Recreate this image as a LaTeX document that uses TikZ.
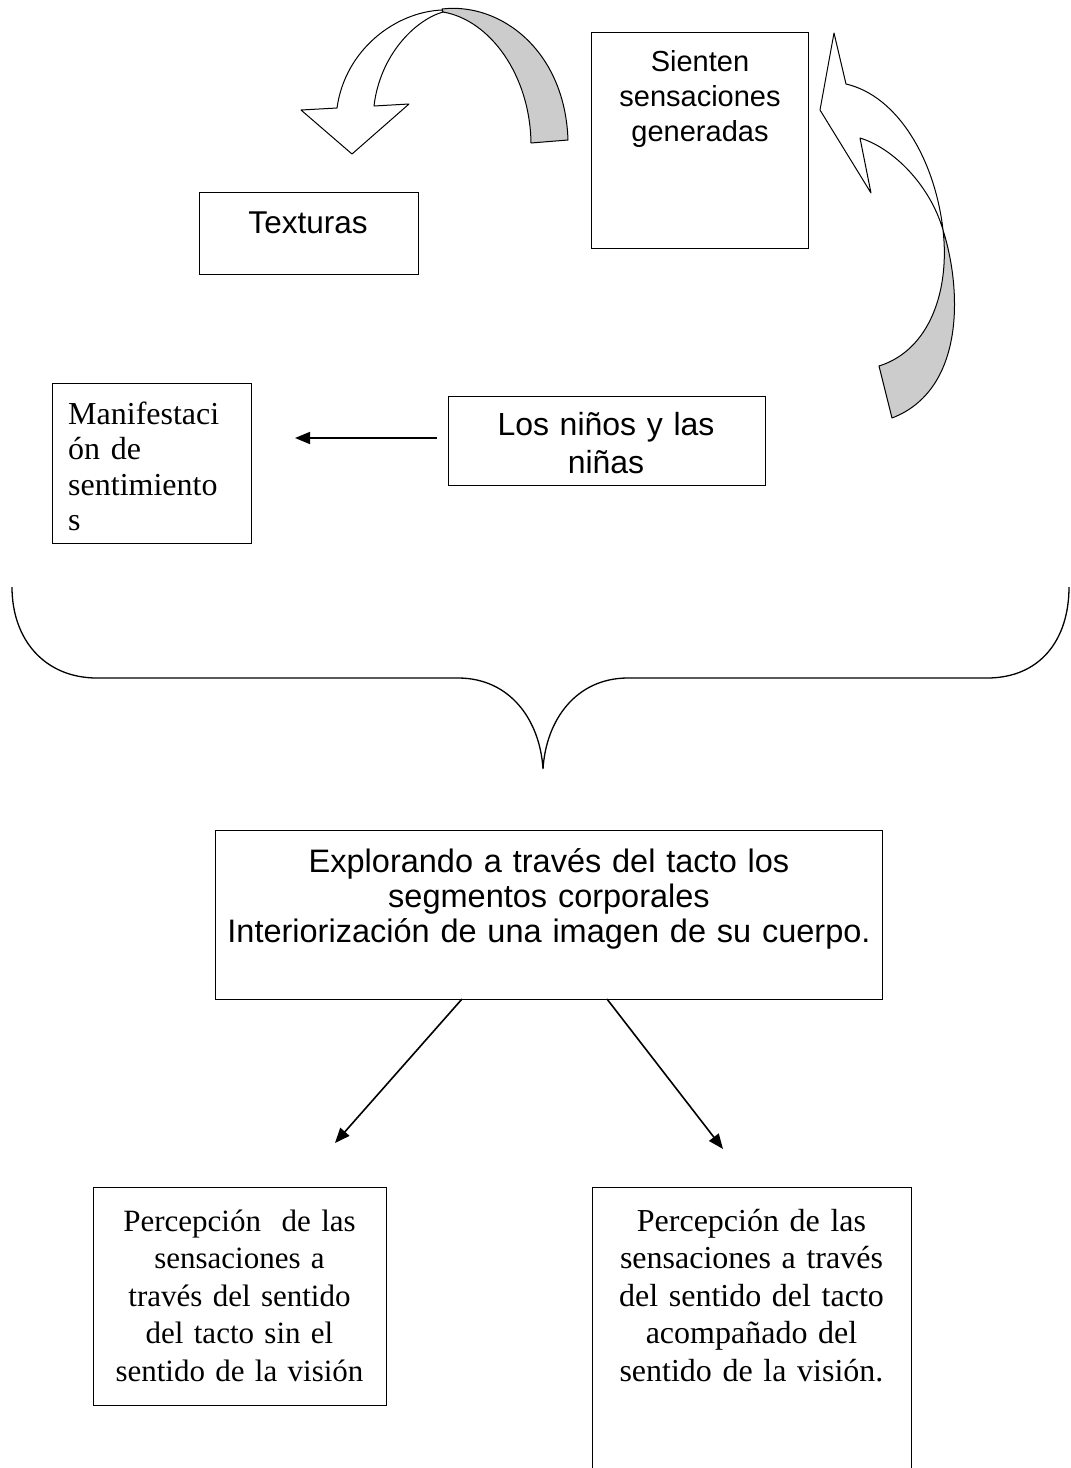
\documentclass[tikz,border=0pt]{standalone}
\usepackage{fontspec}
\setmainfont{Liberation Serif}
\newfontfamily\arialf{Liberation Sans}
\usetikzlibrary{arrows.meta}
\begin{document}
\begin{tikzpicture}[x=1pt,y=-1pt,
  boxs/.style={draw, line width=1.3pt, inner sep=0pt, anchor=north west},
  txt/.style={inner sep=0pt, anchor=base, align=center},
  conn/.style={line width=1.6pt, -{Triangle[length=15pt,width=12pt]}},
  ribbon/.style={draw, line width=1pt, line join=round},
  bracel/.style={line width=1.3pt}
]
\useasboundingbox (0,0) rectangle (1071,1468);
\clip (0,0) rectangle (1071,1468);

% ---- curved arrow at top (Texturas) ----
\path[ribbon, fill=black!20] (442,9) .. controls (500,2) and (565,50) .. (568,140)
  -- (531,143) .. controls (530,75) and (490,20) .. (443,12) -- cycle;
\path[ribbon, fill=white] (442,10) .. controls (395,12) and (345,50) .. (337,108)
  -- (301,110) -- (352,154) -- (409,104) -- (374,106)
  .. controls (380,55) and (415,20) .. (443,12) -- cycle;

% ---- curved arrow at right ----
\path[ribbon, fill=black!20] (943,230) .. controls (962,290) and (965,390) .. (892,418)
  -- (879,366) .. controls (930,350) and (950,290) .. (943,230) -- cycle;
\path[ribbon, fill=white] (846,84) -- (834,33) -- (820,110) -- (871,193) -- (860,138)
  .. controls (893,148) and (930,185) .. (943,230)
  .. controls (935,160) and (898,96) .. (846,84) -- cycle;

% ---- boxes ----
\node[boxs, minimum width=219, minimum height=82] (texb) at (199,192) {};
\node[txt, font=\arialf\fontsize{31.5}{35}\selectfont] (text) at (308,233) {Texturas};

\node[boxs, minimum width=217, minimum height=216] (sienb) at (591,32) {};
\node[txt, text width=215, font=\arialf\fontsize{29}{35}\selectfont] (sient) at (700,71)
  {Sienten\\sensaciones\\generadas};

\node[boxs, minimum width=317, minimum height=89] (ninb) at (448,396) {};
\node[txt, text width=315, font=\arialf\fontsize{32}{38}\selectfont] (nint) at (606,435)
  {Los niños y las\\niñas};

\node[boxs, minimum width=199, minimum height=160] (manb) at (52,383) {};
\begin{scope}
  \clip (52,383) rectangle (251,538);
  \node[inner sep=0pt, anchor=base west, align=left, text width=190,
        font=\fontsize{32}{35.5}\selectfont] (mant) at (68,424)
    {Manifestaci\\ón de\\sentimiento\\s};
\end{scope}

\node[boxs, minimum width=667, minimum height=169] (expb) at (215,830) {};
\node[txt, text width=660, font=\arialf\fontsize{32.5}{35}\selectfont] (expt) at (549,872)
  {Explorando a través del tacto los\\segmentos corporales\\Interiorización de una imagen de su cuerpo.};

\node[boxs, minimum width=293, minimum height=218] (lb) at (93,1187) {};
\node[txt, text width=300, font=\fontsize{31}{37.5}\selectfont] (lt) at (239.5,1231)
  {Percepción\ \ de las\\sensaciones a\\través del sentido\\del tacto sin el\\sentido de la visión};

\node[boxs, minimum width=319, minimum height=300] (rb) at (592,1187) {};
\node[txt, text width=330, font=\fontsize{32}{37.5}\selectfont] (rt) at (751.5,1231)
  {Percepción de las\\sensaciones a través\\del sentido del tacto\\acompañado del\\sentido de la visión.};

% ---- straight arrows ----
\coordinate (h1) at (437,438);
\coordinate (h2) at (295,438);
\draw[conn] (h1) -- (h2);

\coordinate (b1) at (462,999);
\coordinate (b1e) at (335,1143);
\coordinate (b2) at (607,999);
\coordinate (b2e) at (723,1149);
\draw[conn] (b1) -- (b1e);
\draw[conn] (b2) -- (b2e);

% ---- brace ----
\coordinate (brl) at (12,587);
\coordinate (brt) at (543,769);
\coordinate (brr) at (1069,587);
\draw[bracel] (brl) .. controls (12,640) and (45,678) .. (97,678) -- (458,678)
  .. controls (510,678) and (540,720) .. (brt)
  .. controls (546,720) and (576,678) .. (628,678) -- (987,678)
  .. controls (1040,678) and (1069,640) .. (brr);
\end{tikzpicture}
\end{document}
